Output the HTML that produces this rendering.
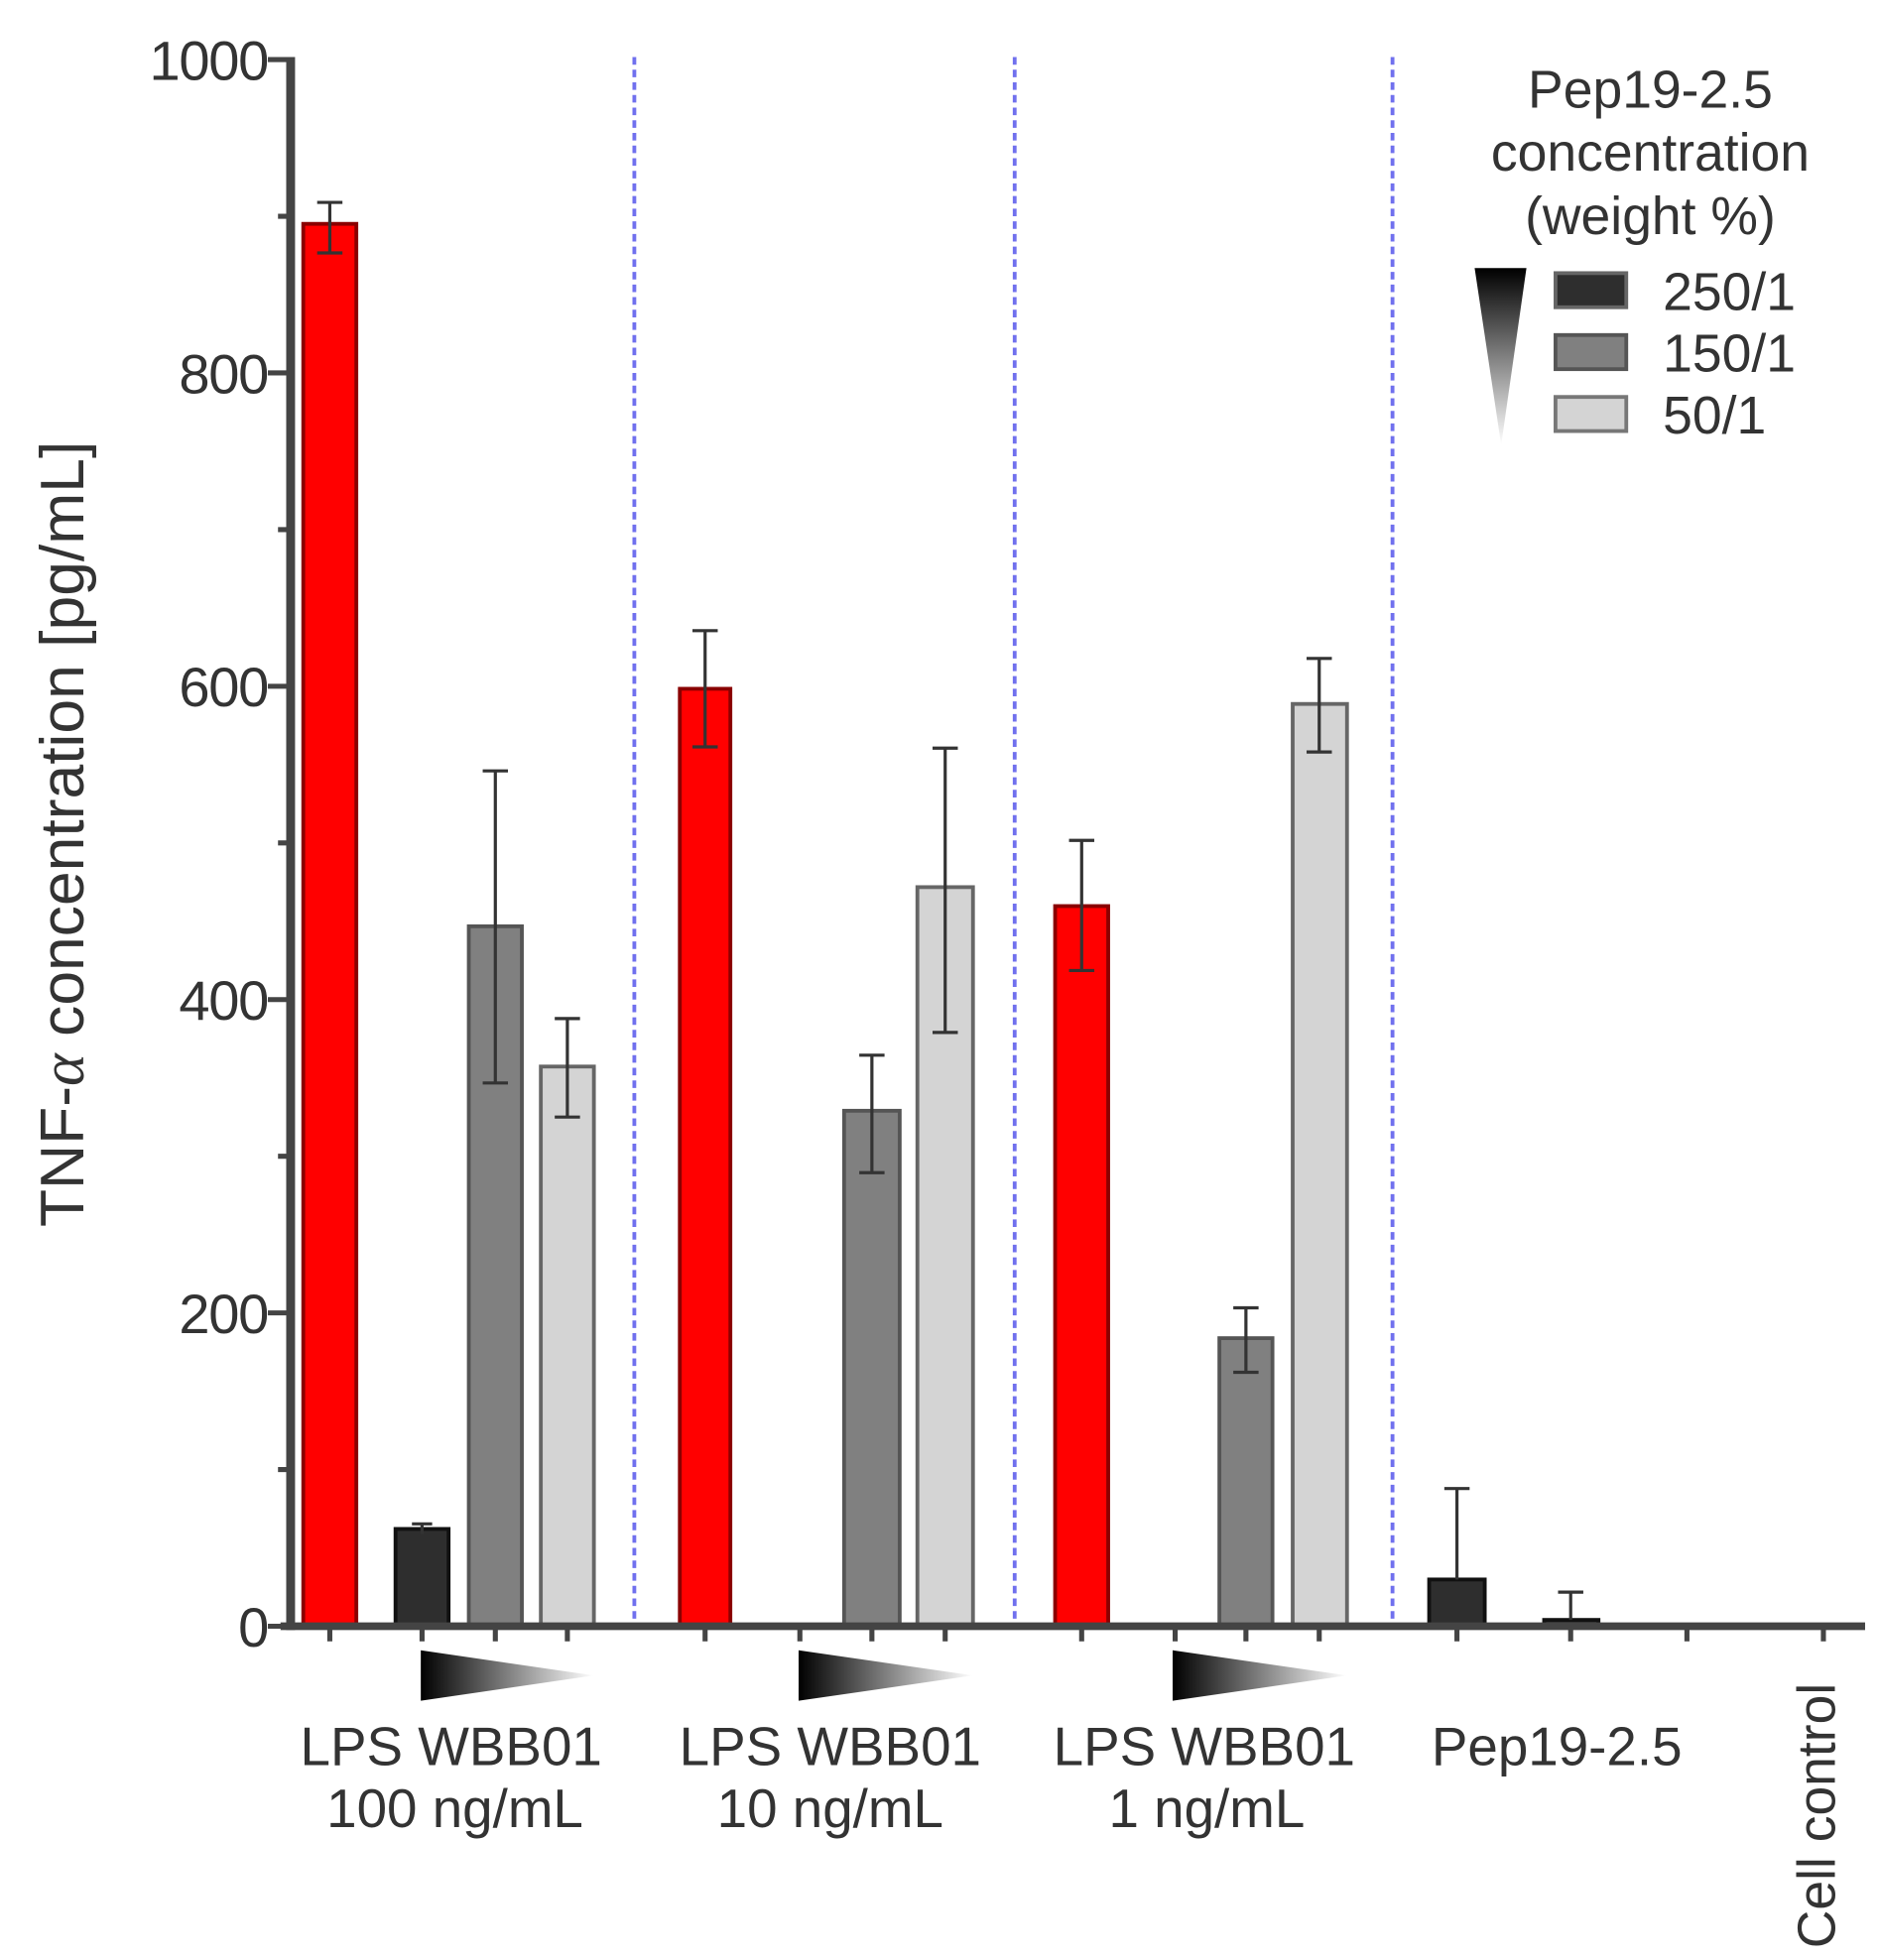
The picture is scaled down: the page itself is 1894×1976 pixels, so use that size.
<!DOCTYPE html>
<html><head><meta charset="utf-8"><style>
html,body{margin:0;padding:0;background:#fff;}
svg{display:block;}
text{font-family:"Liberation Sans",sans-serif;fill:#333;}
</style></head><body>
<svg width="1894" height="1976" viewBox="0 0 1487 1551" xmlns="http://www.w3.org/2000/svg">
<defs>
<linearGradient id="gh" x1="0" x2="1" y1="0" y2="0"><stop offset="0" stop-color="#000"/><stop offset="1" stop-color="#fff"/></linearGradient>
<linearGradient id="gv" x1="0" x2="0" y1="0" y2="1"><stop offset="0" stop-color="#000"/><stop offset="1" stop-color="#fff"/></linearGradient>
</defs>
<g stroke="#7070ee" stroke-width="3" stroke-dasharray="6,4">
<line x1="502" y1="45" x2="502" y2="1287"/>
<line x1="803" y1="45" x2="803" y2="1287"/>
<line x1="1102" y1="45" x2="1102" y2="1287"/>
</g>
<g stroke-width="3">
<rect x="240" y="177" width="42" height="1110" fill="#ff0000" stroke="#8a0000"/>
<rect x="313" y="1210" width="42" height="77" fill="#2e2e2e" stroke="#111"/>
<rect x="371" y="733" width="42" height="554" fill="#808080" stroke="#555"/>
<rect x="428" y="844" width="42" height="443" fill="#d4d4d4" stroke="#666"/>
<rect x="538" y="545" width="40" height="742" fill="#ff0000" stroke="#8a0000"/>
<rect x="668" y="879" width="44" height="408" fill="#808080" stroke="#555"/>
<rect x="726" y="702" width="44" height="585" fill="#d4d4d4" stroke="#666"/>
<rect x="835" y="717" width="42" height="570" fill="#ff0000" stroke="#8a0000"/>
<rect x="965" y="1059" width="42" height="228" fill="#808080" stroke="#555"/>
<rect x="1023" y="557" width="43" height="730" fill="#d4d4d4" stroke="#666"/>
<rect x="1131" y="1250" width="44" height="37" fill="#2e2e2e" stroke="#111"/>
<rect x="1222" y="1282" width="43" height="5" fill="#2e2e2e" stroke="#111"/>
</g>
<g stroke="#333" stroke-width="2.5" fill="none">
<path d="M261 160V200M251 160H271M251 200H271"/>
<path d="M334 1206V1214M326 1206H342"/>
<path d="M392 610V857M382 610H402M382 857H402"/>
<path d="M449 806V884M439 806H459M439 884H459"/>
<path d="M558 499V591M548 499H568M548 591H568"/>
<path d="M690 835V928M680 835H700M680 928H700"/>
<path d="M748 592V817M738 592H758M738 817H758"/>
<path d="M856 665V768M846 665H866M846 768H866"/>
<path d="M986 1035V1086M976 1035H996M976 1086H996"/>
<path d="M1044 521V595M1034 521H1054M1034 595H1054"/>
<path d="M1153 1178V1250M1143 1178H1163"/>
<path d="M1243 1260V1282M1233 1260H1253"/>
</g>
<g stroke="#444" fill="none">
<line x1="230" y1="45" x2="230" y2="1290" stroke-width="7"/>
<line x1="222" y1="1287" x2="1476" y2="1287" stroke-width="6"/>
<path d="M212 47H230M212 295H230M212 543H230M212 791H230M212 1039H230M212 1287H230M220 171H230M220 419H230M220 667H230M220 915H230M220 1163H230" stroke-width="4"/>
<path d="M261 1287v12M334 1287v12M392 1287v12M449 1287v12M558 1287v12M633 1287v12M690 1287v12M748 1287v12M856 1287v12M930 1287v12M986 1287v12M1044 1287v12M1153 1287v12M1243 1287v12M1335 1287v12M1443 1287v12" stroke-width="4"/>
</g>
<g font-size="44" text-anchor="end" letter-spacing="-1">
<text x="212" y="63">1000</text>
<text x="212" y="311">800</text>
<text x="212" y="559">600</text>
<text x="212" y="807">400</text>
<text x="212" y="1055">200</text>
<text x="212" y="1303">0</text>
</g>
<text transform="translate(66,660) rotate(-90)" font-size="49" text-anchor="middle">TNF-<tspan font-style="italic" font-family="Liberation Serif,serif">α</tspan> concentration [pg/mL]</text>
<polygon points="333,1306 333,1346 470,1326" fill="url(#gh)"/>
<polygon points="632,1306 632,1346 770,1326" fill="url(#gh)"/>
<polygon points="928,1306 928,1346 1066,1326" fill="url(#gh)"/>
<g font-size="43" text-anchor="middle">
<text x="357" y="1397">LPS WBB01</text><text x="360" y="1446">100 ng/mL</text>
<text x="657" y="1397">LPS WBB01</text><text x="657" y="1446">10 ng/mL</text>
<text x="953" y="1397">LPS WBB01</text><text x="955" y="1446">1 ng/mL</text>
<text x="1232" y="1397">Pep19-2.5</text>
</g>
<text transform="translate(1452,1542) rotate(-90)" font-size="42">Cell control</text>
<g font-size="42" text-anchor="middle">
<text x="1306" y="85">Pep19-2.5</text>
<text x="1306" y="135">concentration</text>
<text x="1306" y="185">(weight %)</text>
</g>
<polygon points="1167,212 1208,212 1188,352" fill="url(#gv)"/>
<g stroke-width="3">
<rect x="1231" y="216" width="56" height="27" fill="#2e2e2e" stroke="#666"/>
<rect x="1231" y="265" width="56" height="27" fill="#808080" stroke="#555"/>
<rect x="1231" y="314" width="56" height="27" fill="#d4d4d4" stroke="#777"/>
</g>
<g font-size="42">
<text x="1316" y="245">250/1</text>
<text x="1316" y="294">150/1</text>
<text x="1316" y="343">50/1</text>
</g>
</svg>
</body></html>
